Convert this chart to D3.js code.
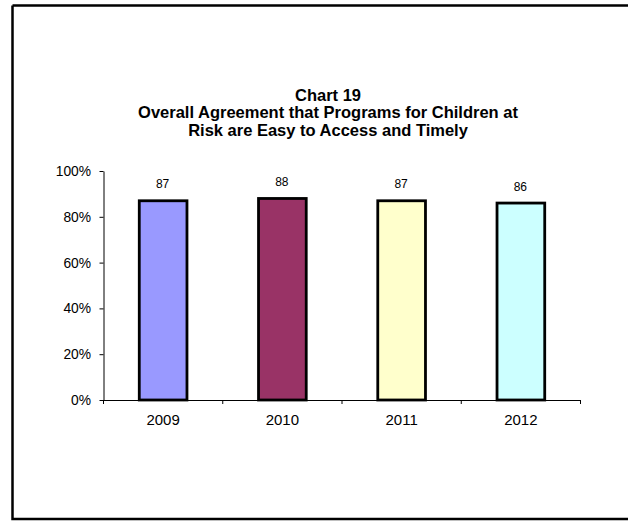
<!DOCTYPE html>
<html><head><meta charset="utf-8">
<script src="https://cdn.jsdelivr.net/npm/d3@7"></script>
<style>body{margin:0;background:#fff}svg{display:block}</style>
</head><body>
<script>
const categories = ["2009","2010","2011","2012"];
const values = [87,88,87,86];
const colors = ["#9999ff","#993366","#ffffcc","#ccffff"];
const yTicks = [0,20,40,60,80,100];
const titleLines = ["Chart 19","Overall Agreement that Programs for Children at","Risk are Easy to Access and Timely"];

(function(){
const W=628,H=522;
const svg=d3.select("body").append("svg").attr("width",W).attr("height",H);
svg.append("rect").attr("width",W).attr("height",H).attr("fill","#fff");
// frame
svg.append("path").attr("d","M12.5,5.5 H640 M12.5,5.5 V519 H640").attr("fill","none").attr("stroke","#000").attr("stroke-width",2.5);

const pl=103.5, pr=580.5, pt=171, pb=400;
const x=d3.scaleBand().domain(categories).range([pl,pr]).paddingInner(0.6).paddingOuter(0.3);
const xb=d3.scaleBand().domain(categories).range([pl,pr]);
const y=d3.scaleLinear().domain([0,100]).range([pb,pt]);

// title
svg.append("g").selectAll("text").data(titleLines).join("text")
 .attr("x",328).attr("y",(d,i)=>100.5+i*17.8).attr("text-anchor","middle")
 .attr("font-family","Liberation Sans, Arial, sans-serif").attr("font-weight","bold").attr("font-size",16.5).text(d=>d);

// y axis
const ya=svg.append("g").attr("transform",`translate(${pl},0)`)
 .call(d3.axisLeft(y).tickValues(yTicks).tickFormat(d=>d+"%").tickSize(4).tickSizeOuter(0));
ya.select(".domain").attr("stroke","#000");
ya.selectAll("text").attr("font-family","Liberation Sans, Arial, sans-serif").attr("font-size",13.8).attr("fill","#000").attr("dx",-5.5);

// bars
svg.append("g").selectAll("rect").data(values).join("rect")
 .attr("x",(d,i)=>x(categories[i])).attr("width",x.bandwidth())
 .attr("y",d=>y(d)).attr("height",d=>pb-y(d))
 .attr("fill",(d,i)=>colors[i]).attr("stroke","#000").attr("stroke-width",2.8);

// x axis
const xa=svg.append("g").attr("transform",`translate(0,${pb})`)
 .call(d3.axisBottom(xb).tickSize(0).tickSizeOuter(0));
xa.select(".domain").attr("stroke","#000");
xa.selectAll("text").attr("font-family","Liberation Sans, Arial, sans-serif").attr("font-size",15).attr("fill","#000").attr("y",24.5).attr("dy",0);
const bounds=[pl,...categories.map(c=>xb(c)+xb.bandwidth())];
xa.selectAll(".bt").data(bounds).join("line").attr("x1",d=>d).attr("x2",d=>d).attr("y1",0).attr("y2",4).attr("stroke","#000");

// value labels
svg.append("g").selectAll("text").data(values).join("text")
 .attr("x",(d,i)=>x(categories[i])+x.bandwidth()/2 - 0.5).attr("y",d=>y(d)-12.5)
 .attr("text-anchor","middle").attr("font-family","Liberation Sans Narrow, Liberation Sans, Arial, sans-serif").attr("font-size",12).attr("fill","#000")
 .text(d=>d);
})();
</script>
</body></html>
